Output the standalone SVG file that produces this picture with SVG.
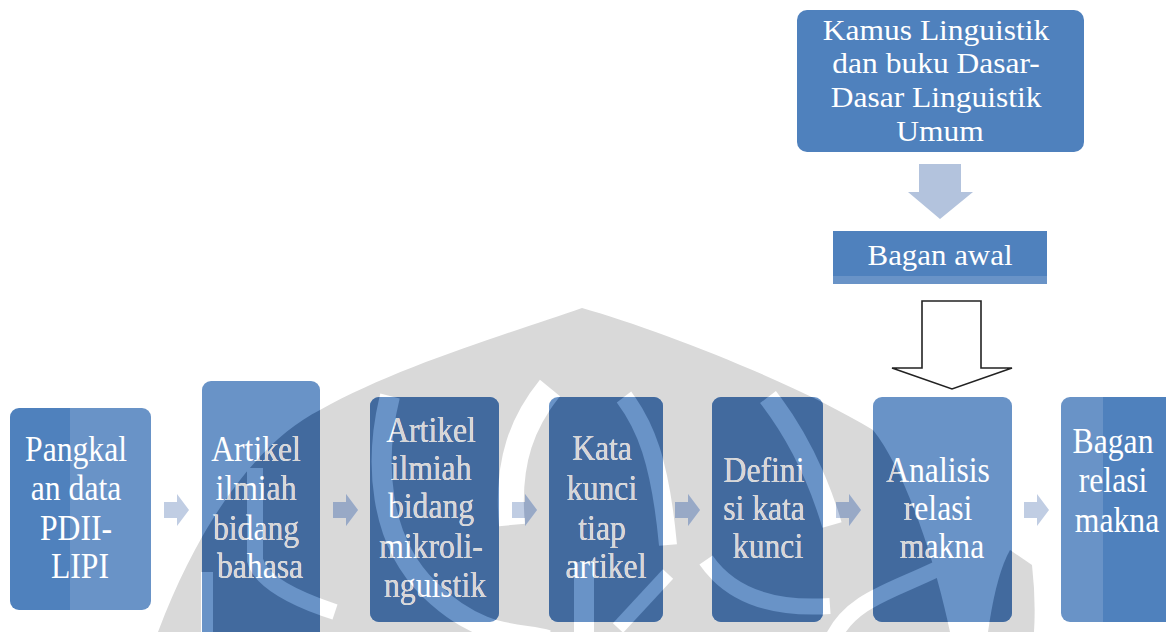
<svg xmlns="http://www.w3.org/2000/svg" xmlns:xlink="http://www.w3.org/1999/xlink" width="1166" height="632" viewBox="0 0 1166 632">
<style>
  .lbl{font-family:"Liberation Serif","Times New Roman",serif;fill:#fff;text-anchor:middle}
  .big{font-size:36px}
  .mid{font-size:30px}
  .base{fill:#4f81bd}
  .lite{fill:#6993c7}
  .flow{fill:#c0cde3}
</style>
<defs>
  <!-- curved openings cut through the emblem -->
  <mask id="gaps" maskUnits="userSpaceOnUse" x="0" y="0" width="1166" height="632">
    <rect width="1166" height="632" fill="#fff"/>
    <g fill="none" stroke="#000">
      <path d="M255 468 V560 Q262 588 335 612" stroke-width="16"/>
      <path d="M207 572 V640" stroke-width="12"/>
      <path d="M390 396 C374 460 378 540 430 590 S520 632 548 640" stroke-width="20"/>
      <path d="M550 388 C524 420 506 460 512 525" stroke-width="26"/>
      <path d="M624 397 C645 425 660 460 668 545" stroke-width="18"/>
      <path d="M584 562 V640" stroke-width="20"/>
      <path d="M618 628 L668 574" stroke-width="14"/>
      <path d="M768 397 C792 428 815 468 832 525" stroke-width="20"/>
      <path d="M706 560 Q742 612 830 606" stroke-width="16"/>
      <path d="M832 640 C852 596 900 590 955 560" stroke-width="16"/>
    </g>
  </mask>
  <!-- emblem printed faintly behind the flow -->
  <g id="mark" mask="url(#gaps)" fill="currentColor">
    <path d="M582 308 C520 330 400 365 320 410 C260 440 200 520 158 632 L950 632 C935 560 905 470 873 430 C800 385 660 330 582 308 Z"/>
    <path d="M988 632 Q996 575 1010 550 L1032 565 Q1036 600 1034 632 Z"/>
  </g>
  <!-- box outlines -->
  <rect id="b1" x="10" y="408" width="141" height="202" rx="9"/>
  <rect id="b2" x="202" y="381" width="118" height="262" rx="9"/>
  <rect id="b3" x="370" y="397" width="129" height="225" rx="9"/>
  <rect id="b4" x="549" y="397" width="114" height="225" rx="9"/>
  <rect id="b5" x="712" y="397" width="111" height="225" rx="9"/>
  <rect id="b6" x="873" y="397" width="139" height="225" rx="9"/>
  <rect id="b7" x="1061" y="397" width="125" height="225" rx="9"/>
  <path id="chev" d="M0 -8 H13 V-16 L25 0 L13 16 V8 H0 Z"/>
  <clipPath id="c1"><use xlink:href="#b1"/></clipPath>
  <clipPath id="c2"><use xlink:href="#b2"/></clipPath>
  <clipPath id="c3"><use xlink:href="#b3"/></clipPath>
  <clipPath id="c4"><use xlink:href="#b4"/></clipPath>
  <clipPath id="c5"><use xlink:href="#b5"/></clipPath>
  <clipPath id="c6"><use xlink:href="#b6"/></clipPath>
  <clipPath id="c7"><use xlink:href="#b7"/></clipPath>
  <clipPath id="ct2"><use xlink:href="#t2"/></clipPath>
  <clipPath id="ct3"><use xlink:href="#t3"/></clipPath>
  <clipPath id="ct4"><use xlink:href="#t4"/></clipPath>
  <clipPath id="ct5"><use xlink:href="#t5"/></clipPath>
  <clipPath id="ct6"><use xlink:href="#t6"/></clipPath>
  <clipPath id="cf">
    <use xlink:href="#chev" x="333" y="510"/>
    <use xlink:href="#chev" x="512" y="510"/>
    <use xlink:href="#chev" x="675" y="510"/>
    <use xlink:href="#chev" x="836" y="510"/>
  </clipPath>
</defs>

<rect width="1166" height="632" fill="#fff"/>

<g id="watermark">
  <use xlink:href="#mark" color="#d9d9d9"/>
</g>

<g id="connectors">
  <path d="M919 164 H961 V192 H973 L940 219 L908 192 H919 Z" fill="#b3c3dd"/>
  <path d="M922 301 H981 V368 H1012 L952 389 L892 368 H922 Z" fill="#fff" stroke="#222" stroke-width="1.6" stroke-linejoin="miter"/>
  <use xlink:href="#chev" x="164" y="510" class="flow"/>
  <use xlink:href="#chev" x="333" y="510" class="flow"/>
  <use xlink:href="#chev" x="512" y="510" class="flow"/>
  <use xlink:href="#chev" x="675" y="510" class="flow"/>
  <use xlink:href="#chev" x="836" y="510" class="flow"/>
  <use xlink:href="#chev" x="1024" y="510" class="flow"/>
  <g clip-path="url(#cf)"><use xlink:href="#mark" color="#98a9c6"/></g>
</g>

<g id="kamus">
  <rect x="797" y="10" width="287" height="142" rx="10" class="base"/>
  <text class="lbl mid" transform="translate(940,0) scale(1.05,1)">
    <tspan x="0" y="40">Kamus Linguistik</tspan>
    <tspan x="0" y="73">dan buku Dasar-</tspan>
    <tspan x="0" y="107">Dasar Linguistik</tspan>
    <tspan x="0" y="141">Umum</tspan>
  </text>
</g>

<g id="bagan-awal">
  <rect x="833" y="231" width="214" height="53" class="base"/>
  <rect x="833" y="276" width="214" height="8" class="lite"/>
  <text class="lbl mid" transform="translate(940,0) scale(1.03,1)"><tspan x="0" y="265">Bagan awal</tspan></text>
</g>

<g id="pangkalan-data">
  <g clip-path="url(#c1)">
    <rect x="10" y="408" width="60" height="202" class="base"/>
    <rect x="70" y="408" width="81" height="202" class="lite"/>
  </g>
  <text class="lbl big" transform="translate(80,0) scale(0.88,1)">
    <tspan x="0" y="461">Pangkal</tspan>
    <tspan x="0" y="500">an data</tspan>
    <tspan x="0" y="540">PDII-</tspan>
    <tspan x="0" y="578">LIPI</tspan>
  </text>
</g>

<g id="artikel-bahasa">
  <use xlink:href="#b2" class="lite"/>
  <g clip-path="url(#c2)"><use xlink:href="#mark" color="#426a9e"/></g>
  <text id="t2" class="lbl big" transform="translate(260,0) scale(0.88,1)">
    <tspan x="0" y="461">Artikel</tspan>
    <tspan x="0" y="500">ilmiah</tspan>
    <tspan x="0" y="540">bidang</tspan>
    <tspan x="0" y="578">bahasa</tspan>
  </text>
  <g clip-path="url(#ct2)"><use xlink:href="#mark" color="#d6d6d6"/></g>
</g>

<g id="artikel-mikrolinguistik">
  <use xlink:href="#b3" class="lite"/>
  <g clip-path="url(#c3)"><use xlink:href="#mark" color="#426a9e"/></g>
  <text id="t3" class="lbl big" transform="translate(435,0) scale(0.88,1)">
    <tspan x="0" y="442">Artikel</tspan>
    <tspan x="0" y="480">ilmiah</tspan>
    <tspan x="0" y="518">bidang</tspan>
    <tspan x="0" y="558">mikroli-</tspan>
    <tspan x="0" y="597">nguistik</tspan>
  </text>
  <g clip-path="url(#ct3)"><use xlink:href="#mark" color="#d6d6d6"/></g>
</g>

<g id="kata-kunci">
  <use xlink:href="#b4" class="lite"/>
  <g clip-path="url(#c4)"><use xlink:href="#mark" color="#426a9e"/></g>
  <text id="t4" class="lbl big" transform="translate(606,0) scale(0.88,1)">
    <tspan x="0" y="460">Kata</tspan>
    <tspan x="0" y="500">kunci</tspan>
    <tspan x="0" y="540">tiap</tspan>
    <tspan x="0" y="578">artikel</tspan>
  </text>
  <g clip-path="url(#ct4)"><use xlink:href="#mark" color="#d6d6d6"/></g>
</g>

<g id="definisi">
  <use xlink:href="#b5" class="lite"/>
  <g clip-path="url(#c5)"><use xlink:href="#mark" color="#426a9e"/></g>
  <text id="t5" class="lbl big" transform="translate(768,0) scale(0.88,1)">
    <tspan x="0" y="482">Defini</tspan>
    <tspan x="0" y="520">si kata</tspan>
    <tspan x="0" y="558">kunci</tspan>
  </text>
  <g clip-path="url(#ct5)"><use xlink:href="#mark" color="#d6d6d6"/></g>
</g>

<g id="analisis">
  <use xlink:href="#b6" class="lite"/>
  <g clip-path="url(#c6)"><use xlink:href="#mark" color="#426a9e"/></g>
  <text id="t6" class="lbl big" transform="translate(942,0) scale(0.88,1)">
    <tspan x="0" y="482">Analisis</tspan>
    <tspan x="0" y="520">relasi</tspan>
    <tspan x="0" y="558">makna</tspan>
  </text>
  <g clip-path="url(#ct6)"><use xlink:href="#mark" color="#d6d6d6"/></g>
</g>

<g id="bagan-relasi">
  <g clip-path="url(#c7)">
    <rect x="1061" y="397" width="42" height="225" class="lite"/>
    <rect x="1103" y="397" width="83" height="225" class="base"/>
  </g>
  <text class="lbl big" transform="translate(1117,0) scale(0.88,1)">
    <tspan x="0" y="453">Bagan</tspan>
    <tspan x="0" y="492">relasi</tspan>
    <tspan x="0" y="532">makna</tspan>
  </text>
</g>
</svg>
